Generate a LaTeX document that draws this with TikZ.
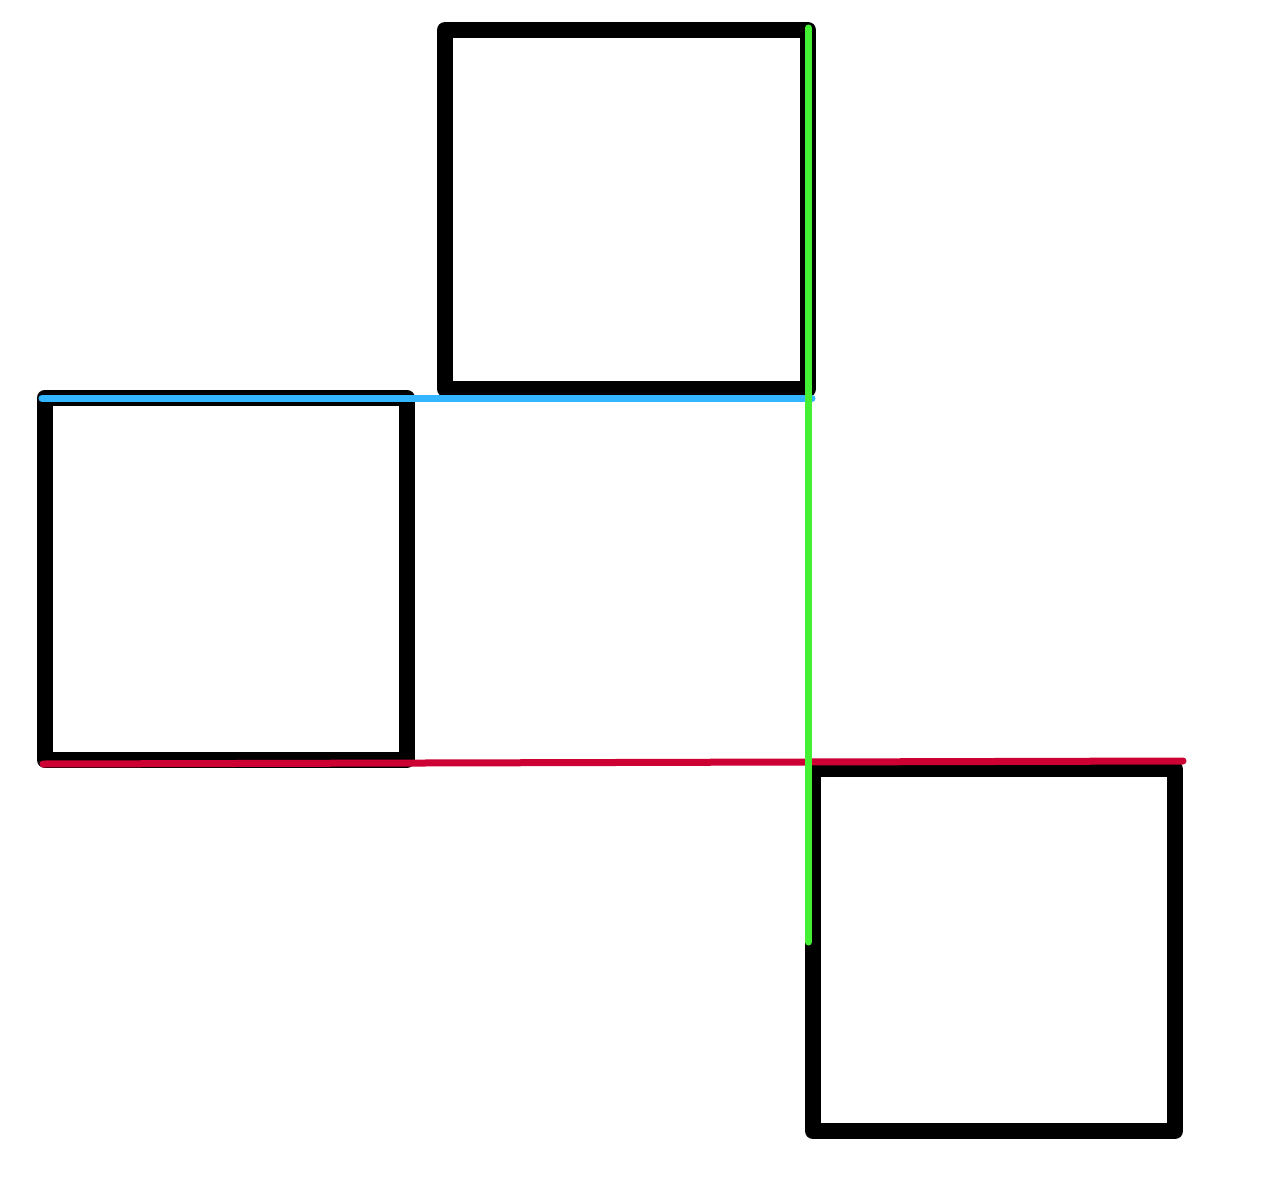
\documentclass[tikz,border=0pt]{standalone}
\usepackage{tikz}
\usepackage{color}

\definecolor{skyblue}{RGB}{51,181,255}
\definecolor{lime}{RGB}{68,240,51}
\definecolor{crimson}{RGB}{204,0,51}

\begin{document}
\begin{tikzpicture}[box/.style={line width=.16cm, line join=round},
 rule/.style={line width=.07cm, line cap=round}]
%\draw[help lines=.1] (0,0) grid (13,12);
\useasboundingbox (0,0) rectangle (12.75,11.82);

\begin{scope}[xshift=4.45cm, yshift=7.93cm]
 \draw[box] (0,0) rectangle (3.63,3.59);
\end{scope}

\begin{scope}[xshift=.45cm, yshift=4.22cm]
 \draw[box] (0,0) rectangle (3.615,3.625);
\end{scope}

\begin{scope}[xshift=8.13cm, yshift=.51cm]
 \draw[box] (0,0) rectangle (3.62,3.62);
\end{scope}

 \draw[rule, skyblue] (.42,7.835) -- (8.12,7.835);
 \draw[rule, crimson] (.43,4.18) -- (11.83,4.21);
 \draw[rule, lime] (8.085,11.54) -- (8.085,2.40);

\end{tikzpicture}
\end{document}
